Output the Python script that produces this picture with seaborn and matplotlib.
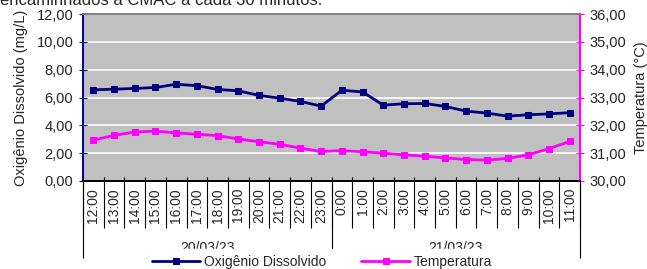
import numpy as np
import pandas as pd
import matplotlib
matplotlib.use('Agg')
import matplotlib.pyplot as plt
import seaborn as sns
from matplotlib.ticker import FuncFormatter, MultipleLocator

# dados
horas = ['12:00', '13:00', '14:00', '15:00', '16:00', '17:00', '18:00', '19:00',
         '20:00', '21:00', '22:00', '23:00', '0:00', '1:00', '2:00', '3:00',
         '4:00', '5:00', '6:00', '7:00', '8:00', '9:00', '10:00', '11:00']
datas = ['20/03/23', '21/03/23']
oxigenio = [6.55, 6.60, 6.65, 6.72, 6.95, 6.85, 6.58, 6.48, 6.15, 5.95, 5.72, 5.38,
            6.52, 6.40, 5.45, 5.55, 5.57, 5.36, 5.02, 4.88, 4.66, 4.76, 4.82, 4.91]
temperatura = [31.47, 31.64, 31.76, 31.79, 31.73, 31.68, 31.63, 31.51, 31.41, 31.32, 31.18, 31.06,
               31.09, 31.05, 31.00, 30.94, 30.89, 30.83, 30.77, 30.75, 30.81, 30.94, 31.16, 31.42]

df = pd.DataFrame({'hora': horas, 'pos': range(len(horas)),
                   'od': oxigenio, 'temp': temperatura})

sns.set_style('white')
plt.rcParams['font.family'] = ['Liberation Sans', 'DejaVu Sans']

AZUL = '#000080'
ROSA = '#FF00FF'

fig = plt.figure(figsize=(6.47, 2.69), dpi=100)
ax = fig.add_axes([83/647, 1-181/269, (580-83)/647, (181-14)/269])
ax.set_facecolor('#C0C0C0')
ax2 = ax.twinx()

sns.lineplot(data=df, x='pos', y='od', ax=ax, color=AZUL, marker='s', markersize=5,
             markeredgecolor=AZUL, linewidth=2, label='Oxigênio Dissolvido', legend=False)
sns.lineplot(data=df, x='pos', y='temp', ax=ax2, color=ROSA, marker='s', markersize=5,
             markeredgecolor=ROSA, linewidth=2, label='Temperatura', legend=False)

fmt = FuncFormatter(lambda v, p: f'{v:.2f}'.replace('.', ','))
ax.set_ylim(0, 12)
ax.yaxis.set_major_locator(MultipleLocator(2))
ax.yaxis.set_major_formatter(fmt)
ax2.set_ylim(30, 36)
ax2.yaxis.set_major_locator(MultipleLocator(1))
ax2.yaxis.set_major_formatter(fmt)
ax.grid(axis='y', color='white', linewidth=1.2)
ax.set_axisbelow(True)

ax.set_xlim(-0.5, len(horas) - 0.5)
ax.set_xticks(df['pos'])
ax.set_xticklabels(horas, rotation=90, fontsize=10)
ax.tick_params(axis='x', length=0, pad=5)
ax.tick_params(axis='y', direction='inout', length=6, color=AZUL, labelsize=10.5, pad=4)
ax2.tick_params(axis='y', direction='inout', length=6, color=ROSA, labelsize=10.5, pad=4)

for a in (ax, ax2):
    a.spines['left'].set_color(AZUL)
    a.spines['right'].set_color(ROSA)
    a.spines['top'].set_color('#808080')
    a.spines['bottom'].set_color('black')
    for s in a.spines.values():
        s.set_linewidth(1.2)
ax2.spines['right'].set_linewidth(1.5)

ax.set_xlabel('')
ax.set_ylabel('Oxigênio Dissolvido (mg/L)', fontsize=10.5, labelpad=6)
ax2.set_ylabel('Temperatura (°C)', fontsize=10.5, labelpad=5)

# separadores das categorias (estilo Excel)
trans = ax.get_xaxis_transform()
limites = np.arange(len(horas) + 1) - 0.5
ax.vlines(limites, -0.28, 0.025, transform=trans, colors='black', linewidth=0.8, clip_on=False)
ax.vlines([limites[0], limites[12], limites[-1]], -0.46, 0, transform=trans,
          colors='black', linewidth=0.8, clip_on=False)
for i, d in enumerate(datas):
    ax.text(i * 12 + 5.5, -0.36, d, transform=trans, ha='center', va='top',
            fontsize=10, clip_on=False)

fig.text(0.0, 1 - 5/269, 'encaminhados à CMAC a cada 30 minutos.', fontsize=12,
         ha='left', va='baseline')

h1, l1 = ax.get_legend_handles_labels()
h2, l2 = ax2.get_legend_handles_labels()
leg = fig.legend(h1 + h2, l1 + l2, loc='center', bbox_to_anchor=(322/647, 1 - 262/269),
                 ncol=2, frameon=True, fontsize=10, handlelength=3.5, columnspacing=2.5,
                 borderpad=0.45, handletextpad=0.3)
leg.get_frame().set_facecolor('white')
leg.get_frame().set_edgecolor('white')
leg.get_frame().set_alpha(1)
leg.get_frame().set_boxstyle('square', pad=0)

fig.savefig('out.png', dpi=100)
